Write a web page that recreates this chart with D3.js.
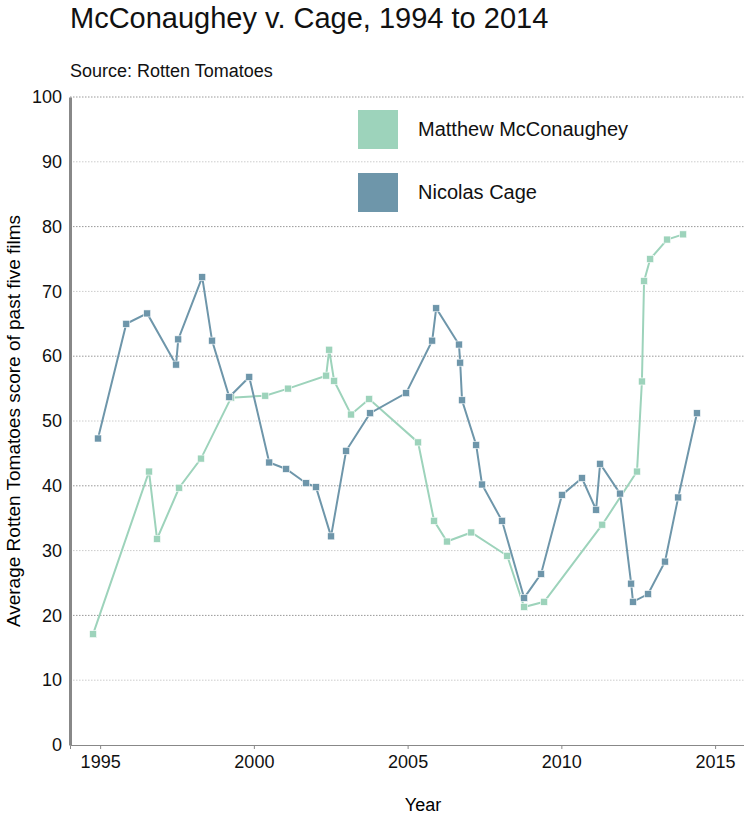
<!DOCTYPE html>
<html><head><meta charset="utf-8">
<script src="https://cdn.jsdelivr.net/npm/d3@7"></script>
<style>
body{margin:0;background:#fff;font-family:"Liberation Sans",Arial,sans-serif;}
</style></head>
<body><svg id="chart" width="744" height="813"></svg>
<script>
// years (fractional) and average scores
const cageYears = [1994.93,1995.85,1996.53,1997.47,1997.54,1998.32,1998.64,1999.2,1999.85,2000.5,2001.05,2001.7,2002.02,2002.51,2003.0,2003.78,2004.95,2005.8,2005.93,2006.67,2006.71,2006.77,2007.23,2007.42,2008.07,2008.79,2009.34,2010.02,2010.67,2011.13,2011.26,2011.91,2012.27,2012.33,2012.82,2013.37,2013.8,2014.41];
const cageScores = [47.3,65,66.6,58.7,62.6,72.2,62.4,53.7,56.8,43.6,42.6,40.4,39.8,32.2,45.4,51.2,54.3,62.4,67.4,61.8,59,53.2,46.3,40.2,34.6,22.7,26.4,38.6,41.2,36.3,43.4,38.8,24.9,22.1,23.3,28.3,38.2,51.2];
const mcYears = [1994.77,1996.59,1996.85,1997.57,1998.28,1999.26,2000.37,2001.11,2002.35,2002.45,2002.61,2003.16,2003.75,2005.34,2005.86,2006.28,2007.07,2008.24,2008.79,2009.44,2011.33,2012.46,2012.62,2012.69,2012.89,2013.44,2013.96];
const mcScores = [17.1,42.2,31.8,39.7,44.2,53.6,53.9,55,57,61,56.2,51,53.4,46.7,34.6,31.4,32.8,29.2,21.3,22.1,34,42.2,56.1,71.6,75,78,78.8];
const xTicks = [1995,2000,2005,2010,2015];
const yTicks = [0,10,20,30,40,50,60,70,80,90,100];
const seriesNames = ["Matthew McConaughey","Nicolas Cage"];
const colors = ["#9dd3bb","#6e96aa"];

const svg = d3.select("#chart");
const mLeft = 70, mRight = 744, mTop = 97, mBottom = 745;
const x = d3.scaleLinear().domain([1994.02, 2015.94]).range([mLeft, mRight]);
const y = d3.scaleLinear().domain([0, 100]).range([mBottom, mTop]);

svg.append("text").attr("x",70).attr("y",28).attr("font-size",29).attr("fill","#111")
  .text("McConaughey v. Cage, 1994 to 2014");
svg.append("text").attr("x",70).attr("y",77).attr("font-size",18).attr("fill","#111")
  .text("Source: Rotten Tomatoes");

// gridlines
svg.append("g").selectAll("line").data(yTicks.slice(1)).join("line")
  .attr("x1",mLeft).attr("x2",mRight).attr("y1",d=>y(d)).attr("y2",d=>y(d))
  .attr("stroke",d=>d%20===0?"#999":"#ccc").attr("stroke-dasharray","1.5,1.5");

const ya = svg.append("g").attr("transform",`translate(${mLeft},0)`)
  .call(d3.axisLeft(y).tickValues(yTicks).tickSize(0).tickPadding(8));
ya.select(".domain").attr("stroke","#888").attr("stroke-width",3);
ya.selectAll("text").attr("font-size",18).attr("fill","#111").attr("font-family","Liberation Sans, Arial");

const xa = svg.append("g").attr("transform",`translate(0,${mBottom})`)
  .call(d3.axisBottom(x).tickValues(xTicks).tickFormat(d3.format("d")).tickSize(4).tickPadding(6));
xa.select(".domain").attr("stroke","#888");
xa.selectAll("line").attr("stroke","#888");
xa.selectAll("text").attr("font-size",18).attr("fill","#111").attr("font-family","Liberation Sans, Arial");

svg.append("text").attr("x",423).attr("y",811).attr("text-anchor","middle").attr("font-size",18).text("Year");
svg.append("text").attr("transform","translate(20,421) rotate(-90)").attr("text-anchor","middle")
  .attr("font-size",19).text("Average Rotten Tomatoes score of past five films");

const line = d3.line().x(d=>x(d[0])).y(d=>y(d[1]));
const series = [
  {pts:d3.zip(mcYears,mcScores), c:colors[0]},
  {pts:d3.zip(cageYears,cageScores), c:colors[1]}
];
series.forEach(s=>{
  svg.append("path").datum(s.pts).attr("d",line).attr("fill","none").attr("stroke",s.c).attr("stroke-width",2);
  svg.append("g").selectAll("rect").data(s.pts).join("rect")
    .attr("x",d=>x(d[0])-3.5).attr("y",d=>y(d[1])-3.5).attr("width",7).attr("height",7)
    .attr("fill",s.c).attr("stroke","#fff").attr("stroke-width",0.6);
});

// legend
const lg = svg.append("g").selectAll("g").data(seriesNames).join("g")
  .attr("transform",(d,i)=>`translate(358,${110+i*63})`);
lg.append("rect").attr("width",40).attr("height",39).attr("fill",(d,i)=>colors[i]);
lg.append("text").attr("x",60).attr("y",26).attr("font-size",20).attr("fill","#111").text(d=>d);
</script></body></html>
